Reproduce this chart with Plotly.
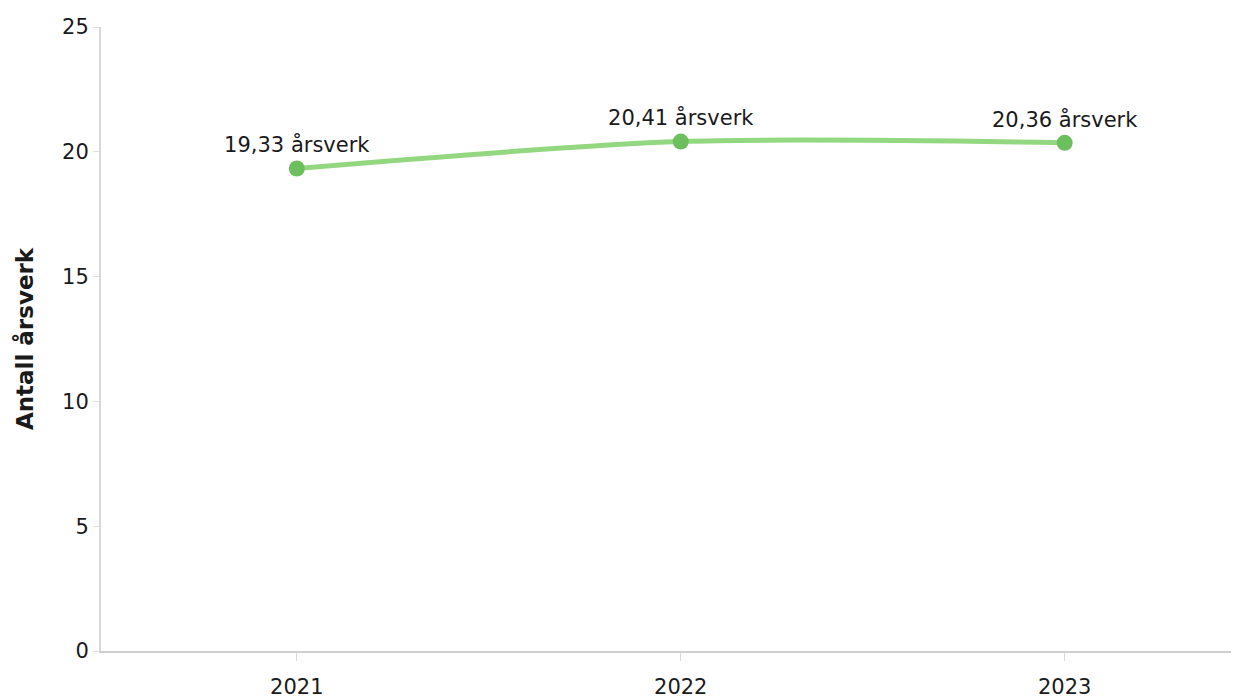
import plotly.graph_objects as go

years = ["2021", "2022", "2023"]
values = [19.33, 20.41, 20.36]
labels = ["19,33 årsverk", "20,41 årsverk", "20,36 årsverk"]
y_ticks = [0, 5, 10, 15, 20, 25]

FONT = "DejaVu Sans"

fig = go.Figure()
fig.add_trace(go.Scatter(
    x=years, y=values, mode="lines+markers+text",
    line=dict(color="#93d780", width=5, shape="spline", smoothing=0.8),
    marker=dict(color="#6cbf5c", size=16),
    text=labels, textposition="top center",
    textfont=dict(family=FONT, size=21, color="#1a1a1a"),
    cliponaxis=False, hoverinfo="skip",
))

fig.update_layout(
    width=1231, height=690,
    margin=dict(l=93, r=0, t=19, b=47),
    paper_bgcolor="white", plot_bgcolor="white",
    showlegend=False,
    font=dict(family=FONT, size=21, color="#1a1a1a"),
)
fig.update_xaxes(
    type="category", range=[-0.51, 2.454],
    showline=True, linecolor="#d0d0d0", linewidth=2,
    ticks="outside", tickcolor="#d8d8d8", ticklen=8, tickwidth=1,
    ticklabelstandoff=8,
    showgrid=False, zeroline=False,
    tickfont=dict(family=FONT, size=21, color="#1a1a1a"),
)
fig.update_yaxes(
    range=[0, 25], tickvals=y_ticks,
    showline=True, linecolor="#d8d8d8", linewidth=2,
    ticks="outside", tickcolor="#e0e0e0", ticklen=6,
    showgrid=False, zeroline=False,
    tickfont=dict(family=FONT, size=21, color="#1a1a1a"),
    title=dict(text="<b>Antall årsverk</b>", font=dict(family=FONT, size=23, color="#1a1a1a"), standoff=22),
)

fig.write_html("out.html")
